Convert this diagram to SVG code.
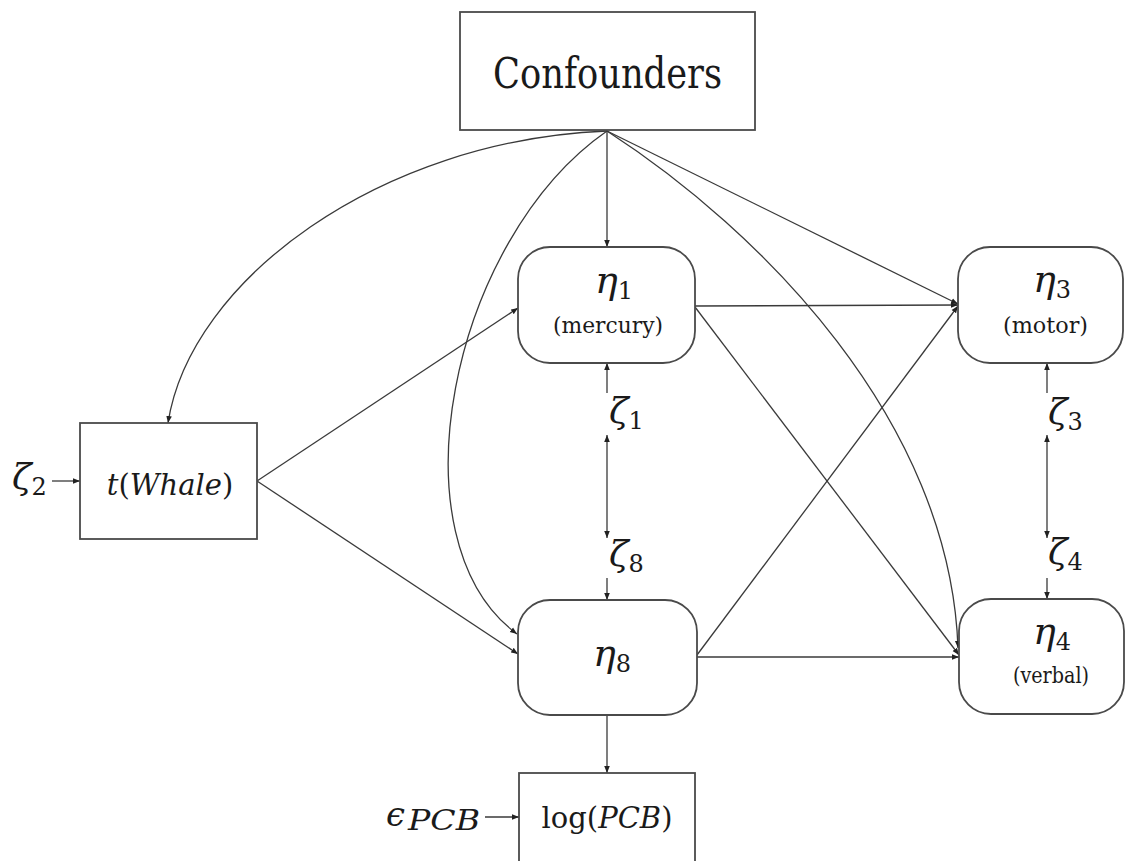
<svg xmlns="http://www.w3.org/2000/svg" width="1127" height="861" viewBox="0 0 1127 861">
<style>
.box{fill:#fff;stroke:#4a4a4a;stroke-width:1.8}
.c{fill:none;stroke:#3a3a3a;stroke-width:1.3}
.t{font-family:'DejaVu Serif','Liberation Serif',serif;fill:#1a1a1a}
.i{font-style:italic}
</style>
<defs>
<marker id="ah" viewBox="0 0 10 10" refX="10" refY="5" markerWidth="7" markerHeight="7" markerUnits="userSpaceOnUse" orient="auto-start-reverse">
<path d="M0,1 L10,5 L0,9 z" fill="#222"/>
</marker>
</defs>
<rect width="1127" height="861" fill="#fff"/>

<g id="connectors">
<line class="c" x1="607" y1="131" x2="607" y2="247" marker-end="url(#ah)"/>
<line class="c" x1="607" y1="131" x2="958" y2="304" marker-end="url(#ah)"/>
<path class="c" d="M607,131 C760,230 950,420 958,648" marker-end="url(#ah)"/>
<path class="c" d="M607,131 C450,240 390,540 517,634" marker-end="url(#ah)"/>
<path class="c" d="M607,131 C380,140 190,280 168,423" marker-end="url(#ah)"/>
<line class="c" x1="257" y1="481" x2="518" y2="308" marker-end="url(#ah)"/>
<line class="c" x1="257" y1="481" x2="518" y2="654" marker-end="url(#ah)"/>
<line class="c" x1="695" y1="306" x2="958" y2="305" marker-end="url(#ah)"/>
<line class="c" x1="695" y1="307" x2="959" y2="655" marker-end="url(#ah)"/>
<line class="c" x1="697" y1="655" x2="958" y2="306" marker-end="url(#ah)"/>
<line class="c" x1="697" y1="657" x2="959" y2="657" marker-end="url(#ah)"/>
<line class="c" x1="607" y1="715" x2="607" y2="773" marker-end="url(#ah)"/>
<line class="c" x1="52" y1="481" x2="80" y2="481" marker-end="url(#ah)"/>
<line class="c" x1="485" y1="817" x2="519" y2="817" marker-end="url(#ah)"/>
<line class="c" x1="607" y1="393" x2="607" y2="363" marker-end="url(#ah)"/>
<line class="c" x1="607" y1="435" x2="607" y2="538" marker-start="url(#ah)" marker-end="url(#ah)"/>
<line class="c" x1="607" y1="578" x2="607" y2="600" marker-end="url(#ah)"/>
<line class="c" x1="1047" y1="393" x2="1047" y2="363" marker-end="url(#ah)"/>
<line class="c" x1="1047" y1="435" x2="1047" y2="538" marker-start="url(#ah)" marker-end="url(#ah)"/>
<line class="c" x1="1047" y1="578" x2="1047" y2="599" marker-end="url(#ah)"/>
</g>

<g id="confounders">
<rect class="box" x="460" y="12" width="295" height="118"/>
<text class="t" x="493" y="88" font-size="42" textLength="229" lengthAdjust="spacingAndGlyphs">Confounders</text>
</g>

<g id="eta1">
<rect class="box" x="518" y="247" width="177" height="116" rx="32"/>
<text class="t" x="595" y="293" font-size="38"><tspan class="i">η</tspan><tspan font-size="24" dy="6">1</tspan></text>
<text class="t" x="553" y="333" font-size="22" textLength="110" lengthAdjust="spacingAndGlyphs">(mercury)</text>
</g>

<g id="eta3">
<rect class="box" x="958" y="247" width="165" height="116" rx="32"/>
<text class="t" x="1033" y="292" font-size="38"><tspan class="i">η</tspan><tspan font-size="24" dy="6">3</tspan></text>
<text class="t" x="1003" y="333" font-size="22" textLength="85" lengthAdjust="spacingAndGlyphs">(motor)</text>
</g>

<g id="eta8">
<rect class="box" x="518" y="600" width="179" height="115" rx="32"/>
<text class="t" x="593" y="666" font-size="38"><tspan class="i">η</tspan><tspan font-size="24" dy="6">8</tspan></text>
</g>

<g id="eta4">
<rect class="box" x="959" y="599" width="165" height="115" rx="32"/>
<text class="t" x="1033" y="644" font-size="38"><tspan class="i">η</tspan><tspan font-size="24" dy="6">4</tspan></text>
<text class="t" x="1013" y="683" font-size="22" textLength="76" lengthAdjust="spacingAndGlyphs">(verbal)</text>
</g>

<g id="whale">
<rect class="box" x="80" y="423" width="177" height="116"/>
<text class="t" x="170" y="495" font-size="29" text-anchor="middle"><tspan class="i">t</tspan>(<tspan class="i">Whale</tspan>)</text>
</g>

<g id="pcb">
<rect class="box" x="519" y="773" width="176" height="100"/>
<text class="t" x="607" y="828" font-size="29" text-anchor="middle">log(<tspan class="i">PCB</tspan>)</text>
</g>

<g id="zeta1"><text class="t" x="609" y="423" font-size="36"><tspan class="i">ζ</tspan><tspan font-size="24" dy="6">1</tspan></text></g>
<g id="zeta8"><text class="t" x="609" y="566" font-size="36"><tspan class="i">ζ</tspan><tspan font-size="24" dy="6">8</tspan></text></g>
<g id="zeta3"><text class="t" x="1048" y="424" font-size="36"><tspan class="i">ζ</tspan><tspan font-size="24" dy="6">3</tspan></text></g>
<g id="zeta4"><text class="t" x="1048" y="564" font-size="36"><tspan class="i">ζ</tspan><tspan font-size="24" dy="6">4</tspan></text></g>
<g id="zeta2"><text class="t" x="12" y="489" font-size="36"><tspan class="i">ζ</tspan><tspan font-size="24" dy="6">2</tspan></text></g>
<g id="epsilon">
<text class="t i" x="386" y="826" font-size="34">ϵ</text>
<text class="t i" x="408" y="830" font-size="28" textLength="72" lengthAdjust="spacingAndGlyphs">PCB</text>
</g>
</svg>
